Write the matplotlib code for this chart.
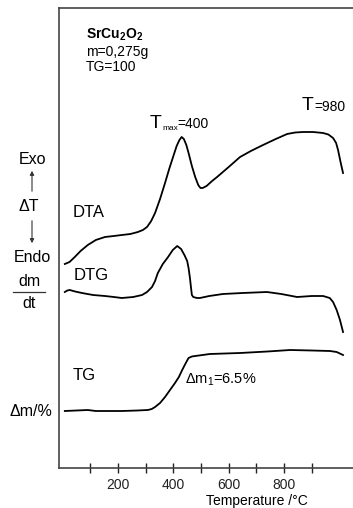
import numpy as np
import matplotlib
matplotlib.use("Agg")
import matplotlib.pyplot as plt

plt.rcParams['font.family'] = ['Liberation Sans', 'DejaVu Sans']
plt.rcParams['mathtext.fontset'] = 'custom'
plt.rcParams['mathtext.rm'] = 'Liberation Sans'
plt.rcParams['mathtext.it'] = 'Liberation Sans'
plt.rcParams['mathtext.bf'] = 'Liberation Sans:bold'

# DTA curve (temperature in C, signal in arbitrary units)
dta_t = [8, 25, 44, 65, 91, 120, 153, 185, 214, 245, 272, 290, 305, 320, 334, 352,
         370, 385, 399, 412, 422, 430, 438, 447, 455, 467, 479, 490, 498, 506,
         520, 540, 558, 600, 641, 680, 724, 770, 811, 840, 868, 905, 941, 960,
         977, 988, 995, 1004, 1013]
dta_y = [204, 206, 211, 217, 223, 228, 231, 232, 233, 234, 236, 238, 241, 247, 255, 269,
         285, 299, 311, 322, 328, 331, 329, 323, 315, 302, 291, 283, 280, 280,
         282, 287, 291, 301, 311, 317, 323, 329, 334, 335.5, 336, 336, 335, 333.5,
         330, 325, 318, 306, 295]

# DTG curve
dtg_t = [8, 17, 26, 45, 70, 110, 153, 185, 214, 255, 287, 305, 323, 334, 344, 362,
         381, 398, 414, 428, 440, 450, 455, 460, 464, 467, 472, 485, 496, 530,
         579, 650, 738, 790, 847, 900, 941, 965, 977, 990, 1002, 1013]
dtg_y = [176, 177.5, 178, 176.5, 175, 173, 172, 171, 170, 171, 173, 176, 181, 187, 195, 204,
         211, 218, 222, 219, 213, 207, 200, 190, 180, 173, 171, 170, 170, 172,
         174, 175, 176, 174, 171, 172, 172, 170, 166, 158, 148, 136]

# TG curve
tg_t = [8, 50, 91, 120, 153, 214, 270, 308, 322, 334, 352, 370, 388, 406, 420,
        432, 445, 455, 467, 479, 532, 641, 740, 822, 900, 966, 990, 1013]
tg_y = [57, 57.5, 58, 57, 57, 57, 57.5, 58, 59, 61, 65, 71, 78, 85, 91,
        98, 105, 110, 111.5, 112, 114, 115, 116.5, 118, 117.5, 117, 116, 113]

major_ticks = [200, 400, 600, 800]
minor_ticks = [100, 300, 500, 700, 900]

W, H = 353, 508
fig = plt.figure(figsize=(W / 100, H / 100), dpi=100)
ax = fig.add_axes([59 / W, 1 - 468 / H, 1 - 59 / W, (468 - 8) / H])

lc = 'black'
ax.plot(dta_t, dta_y, color=lc, lw=1.3)
ax.plot(dtg_t, dtg_y, color=lc, lw=1.3)
ax.plot(tg_t, tg_y, color=lc, lw=1.3)

ax.set_xlim(-13, 1049)
ax.set_ylim(0, 460)
ax.spines['right'].set_visible(False)
for s in ['left', 'top', 'bottom']:
    ax.spines[s].set_color('#444444')
    ax.spines[s].set_linewidth(1.2)

ax.set_yticks([])
ax.set_xticks(major_ticks)
ax.set_xticks(minor_ticks, minor=True)
ax.tick_params(axis='x', which='both', direction='inout', length=7, width=1,
               labelsize=10, pad=4, colors='#222222')
ax.set_xlabel('Temperature /°C', fontsize=10)
ax.xaxis.set_label_coords((257 - 59) / 294, -0.056)


def ft(x, y, s, **kw):
    # text placed at reference pixel position
    fig.text(x / W, 1 - y / H, s, **kw)


ft(86, 35, r'$\mathbf{SrCu_2O_2}$', fontsize=10, va='center')
ft(86, 52, 'm=0,275g', fontsize=10, va='center')
ft(86, 67, 'TG=100', fontsize=10, va='center')

ft(150, 124, 'T', fontsize=14, va='center')
ft(162, 128, 'max', fontsize=6, va='center')
ft(177, 124, '=400', fontsize=10, va='center')

ft(302, 106, 'T', fontsize=14, va='center')
ft(314, 107, '=980', fontsize=10, va='center')

ft(32, 160, 'Exo', fontsize=11.5, ha='center', va='center')
ft(29, 207, 'ΔT', fontsize=11.5, ha='center', va='center')
ft(32, 257, 'Endo', fontsize=11.5, ha='center', va='center')
ft(29, 281, 'dm', fontsize=11.5, ha='center', va='center')
ft(29, 303, 'dt', fontsize=11.5, ha='center', va='center')
fig.add_artist(plt.Line2D([13 / W, 45 / W], [1 - 292 / H, 1 - 292 / H],
                          color='#333333', lw=0.9))
ft(31, 411, 'Δm/%', fontsize=11.5, ha='center', va='center')

arr = dict(arrowstyle='-|>', color='#333333', lw=0.8, mutation_scale=6)
ax.annotate('', xy=(32 / W, 1 - 168 / H), xytext=(32 / W, 1 - 194 / H),
            xycoords='figure fraction', textcoords='figure fraction',
            arrowprops=arr, annotation_clip=False)
ax.annotate('', xy=(32 / W, 1 - 246 / H), xytext=(32 / W, 1 - 218 / H),
            xycoords='figure fraction', textcoords='figure fraction',
            arrowprops=arr, annotation_clip=False)

ft(73, 213, 'DTA', fontsize=12, va='center')
ft(74, 275, 'DTG', fontsize=12, va='center')
ft(73, 375, 'TG', fontsize=12, va='center')
ft(185, 380, r'Δm$_1$=6.5%', fontsize=10.5, va='center')

fig.savefig('out.png', dpi=100)
